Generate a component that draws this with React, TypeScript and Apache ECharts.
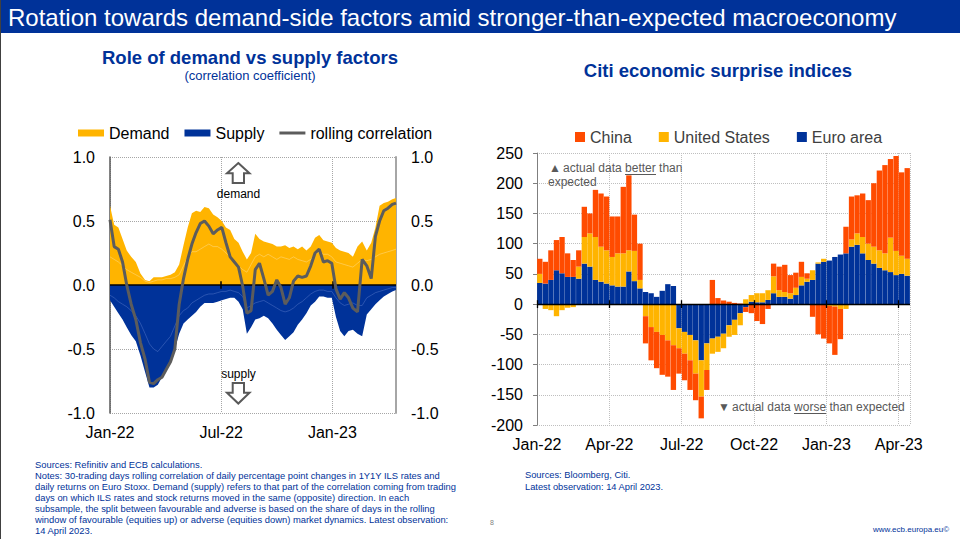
import React, { useEffect, useRef } from 'react';
import * as echarts from 'echarts';

const FONT = '"Liberation Sans", Arial, Helvetica, sans-serif';
const ECB_BLUE = '#003299';
const YELLOW = '#FFB400';
const ORANGE = '#FF4B00';
const GRAY = '#595959';

// ---------- Left chart: weekly observations (days after 1 Jan 2022) ----------
const leftDays: number[] = Array.from({ length: 67 }, (_, i) => i * 7).concat([468]);

const demand = [
  0.62, 0.47, 0.45, 0.36, 0.27, 0.22, 0.18, 0.09, 0.04, 0.03,
  0.06, 0.06, 0.06, 0.07, 0.08, 0.10, 0.16, 0.31, 0.45, 0.56,
  0.58, 0.57, 0.61, 0.60, 0.55, 0.53, 0.50, 0.45, 0.43, 0.36,
  0.33, 0.26, 0.20, 0.25, 0.40, 0.36, 0.34, 0.33, 0.32, 0.30,
  0.30, 0.31, 0.29, 0.30, 0.28, 0.30, 0.27, 0.30, 0.37, 0.39,
  0.35, 0.34, 0.33, 0.29, 0.27, 0.26, 0.25, 0.22, 0.30, 0.34,
  0.27, 0.33, 0.45, 0.62, 0.64, 0.65, 0.67, 0.68,
];
const supply = [
  -0.12, -0.17, -0.22, -0.27, -0.33, -0.39, -0.44, -0.55, -0.68, -0.80,
  -0.80, -0.78, -0.72, -0.66, -0.61, -0.50, -0.38, -0.30, -0.27, -0.24,
  -0.21, -0.17, -0.14, -0.14, -0.14, -0.13, -0.12, -0.11, -0.10, -0.10,
  -0.13, -0.19, -0.38, -0.33, -0.27, -0.26, -0.24, -0.26, -0.30, -0.35,
  -0.39, -0.43, -0.40, -0.37, -0.31, -0.27, -0.22, -0.16, -0.13, -0.09,
  -0.09, -0.10, -0.10, -0.25, -0.36, -0.40, -0.36, -0.35, -0.38, -0.40,
  -0.23, -0.19, -0.15, -0.12, -0.09, -0.07, -0.05, -0.04,
];
const demandFavourable = [
  0.22, 0.20, 0.18, 0.15, 0.12, 0.10, 0.08, 0.06, 0.03, 0.02,
  0.03, 0.04, 0.04, 0.05, 0.05, 0.06, 0.08, 0.15, 0.22, 0.26,
  0.26, 0.28, 0.30, 0.32, 0.30, 0.30, 0.28, 0.25, 0.22, 0.18,
  0.15, 0.12, 0.10, 0.16, 0.22, 0.24, 0.22, 0.24, 0.22, 0.20,
  0.22, 0.21, 0.20, 0.22, 0.20, 0.19, 0.18, 0.20, 0.24, 0.26,
  0.24, 0.24, 0.22, 0.18, 0.17, 0.16, 0.15, 0.14, 0.17, 0.20,
  0.19, 0.20, 0.22, 0.24, 0.25, 0.26, 0.27, 0.28,
];
const supplyFavourable = [
  -0.08, -0.10, -0.13, -0.15, -0.17, -0.20, -0.24, -0.30, -0.38, -0.46,
  -0.50, -0.52, -0.48, -0.44, -0.40, -0.32, -0.24, -0.20, -0.18, -0.14,
  -0.12, -0.10, -0.08, -0.07, -0.07, -0.06, -0.05, -0.05, -0.04, -0.05,
  -0.06, -0.09, -0.18, -0.16, -0.14, -0.13, -0.12, -0.14, -0.16, -0.18,
  -0.20, -0.21, -0.20, -0.18, -0.15, -0.13, -0.10, -0.07, -0.05, -0.04,
  -0.04, -0.05, -0.05, -0.10, -0.14, -0.16, -0.15, -0.14, -0.16, -0.16,
  -0.10, -0.08, -0.06, -0.05, -0.04, -0.03, -0.02, -0.02,
];
const rollingCorrelation = [
  0.51, 0.30, 0.28, 0.18, 0.00, -0.15, -0.27, -0.45, -0.58, -0.76,
  -0.77, -0.74, -0.72, -0.66, -0.60, -0.50, -0.15, 0.05, 0.20, 0.32,
  0.41, 0.48, 0.50, 0.46, 0.40, 0.43, 0.45, 0.33, 0.22, 0.18,
  0.14, -0.01, -0.22, -0.20, 0.12, 0.17, 0.05, -0.08, -0.05, 0.04,
  -0.02, -0.15, -0.10, 0.03, 0.07, 0.06, 0.07, 0.15, 0.25, 0.28,
  0.18, 0.19, 0.17, -0.03, -0.11, -0.06, -0.10, -0.18, -0.21, 0.20,
  0.15, 0.05, 0.38, 0.50, 0.58, 0.60, 0.63, 0.64,
];
const leftTickLabels: Record<number, string> = { 0: 'Jan-22', 6: 'Jul-22', 12: 'Jan-23' };

// ---------- Right chart: weekly bars (week centre, days after 1 Jan 2022) ----------
const rightDays: number[] = Array.from({ length: 67 }, (_, i) => 3.5 + i * 7);

const euroArea = [
  35, 34, 40, 56, 51, 45, 45, 42, 67, 62,
  40, 37, 34, 31, 29, 29, 54, 38, 26, 20,
  18, 12, 22, 33, 30, -40, -46, -51, -60, -93,
  -65, -57, -54, -49, -35, -26, -15, -5, 4, 3,
  3, 7, 18, 12, 12, 9, 15, 31, 37, 40,
  67, 70, 72, 78, 82, 84, 95, 98, 84, 73,
  67, 60, 56, 53, 48, 50, 47,
];
const unitedStates = [
  15, -8, -10, -20, -10, -6, -5, 20, 44, 55,
  71, 58, 55, 47, 55, 55, 35, 50, 14, -20,
  -38, -46, -51, -60, -68, -33, -36, -42, -55, -60,
  -44, -25, -25, -24, -19, -25, -20, 8, 11, 15,
  15, 16, 28, 11, 8, 9, 12, 14, 5, 16,
  2, 5, -3, -4, -8, -8, 12, 19, 27, 27,
  28, 29, 28, 57, 40, 30, 28,
];
const china = [
  25, 36, 49, 50, 60, 39, 28, 27, 50, 33,
  78, 88, 89, 67, 61, 110, 124, 60, 60, -45,
  -55, -60, -66, -60, -74, -42, -44, -49, -44, -36,
  -33, 40, 10, 6, 4, 2, 1, -8, -15, -28,
  -33, -8, 21, 39, 45, 30, 25, 25, 9, -21,
  -50, -57, -62, -80, -50, 44, 71, 63, 72, 72,
  105, 132, 146, 130, 157, 138, 150,
];
const rightTickLabels: Record<number, string> = {
  0: 'Jan-22', 3: 'Apr-22', 6: 'Jul-22', 9: 'Oct-22', 12: 'Jan-23', 15: 'Apr-23',
};

// ---------- Texts ----------
const pageTitle = 'Rotation towards demand-side factors amid stronger-than-expected macroeconomy';
const leftTitle = 'Role of demand vs supply factors';
const leftSubtitle = '(correlation coefficient)';
const rightTitle = 'Citi economic surprise indices';
const leftNotes = [
  'Sources: Refinitiv and ECB calculations.',
  'Notes: 30-trading days rolling correlation of daily percentage point changes in 1Y1Y ILS rates and',
  'daily returns on Euro Stoxx. Demand (supply) refers to that part of the correlation coming from trading',
  'days on which ILS rates and stock returns moved in the same (opposite) direction. In each',
  'subsample, the split between favourable and adverse is based on the share of days in the rolling',
  'window of favourable (equities up) or adverse (equities down) market dynamics. Latest observation:',
  '14 April 2023.',
];
const rightNotes = ['Sources: Bloomberg, Citi.', 'Latest observation: 14 April 2023.'];

// days after 1 Jan 2022 -> fractional month index (0 = Jan-22)
const DAYS_IN_MONTH = [31, 28, 31, 30, 31, 30, 31, 31, 30, 31, 30, 31];
function dayToMonth(d: number): number {
  let m = 0;
  let rem = d;
  for (;;) {
    const dim = DAYS_IN_MONTH[m % 12];
    if (rem < dim) return m + rem / dim;
    rem -= dim;
    m++;
  }
}

function txt(text: string, x: number, y: number, o: any = {}) {
  return {
    type: 'text',
    x,
    y,
    silent: true,
    z: 100,
    style: {
      text,
      fill: o.fill || '#000',
      fontSize: o.fontSize || 12,
      fontWeight: o.fontWeight || 'normal',
      fontFamily: FONT,
      align: o.align || 'left',
      verticalAlign: 'middle',
    },
  };
}

function buildOption(): any {
  const leftMax = dayToMonth(468);
  const rightMax = dayToMonth(469);
  const lx = leftDays.map(dayToMonth);
  const pair = (xs: number[], ys: number[]) => xs.map((x, i) => [x, ys[i]]);

  const dotted = { show: true, lineStyle: { color: '#a6a6a6', type: 'dotted', width: 1 } };
  const markBase = {
    silent: true, symbol: ['none', 'none'], label: { show: false }, animation: false,
  };

  const graphics: any[] = [
    { type: 'rect', silent: true, shape: { x: 0, y: 0, width: 960, height: 33 }, style: { fill: ECB_BLUE } },
    { type: 'line', silent: true, shape: { x1: 0.5, y1: 0, x2: 0.5, y2: 539 }, style: { stroke: '#404040', lineWidth: 1 } },
    txt(pageTitle, 8, 17, { fill: '#fff', fontSize: 24 }),
    txt(leftTitle, 250, 57, { fill: ECB_BLUE, fontSize: 18.5, fontWeight: 'bold', align: 'center' }),
    txt(leftSubtitle, 250, 75, { fill: ECB_BLUE, fontSize: 13, align: 'center' }),
    txt(rightTitle, 718, 70, { fill: ECB_BLUE, fontSize: 18.5, fontWeight: 'bold', align: 'center' }),
    // demand / supply arrows
    {
      type: 'polygon', silent: true, z: 100,
      shape: { points: [[238.3, 163], [249.5, 173.3], [244, 173.3], [244, 183], [232.7, 183], [232.7, 173.3], [227, 173.3]] },
      style: { fill: '#fff', stroke: GRAY, lineWidth: 2 },
    },
    txt('demand', 238.5, 194, { fontSize: 12, align: 'center' }),
    txt('supply', 238.5, 374, { fontSize: 12, align: 'center' }),
    {
      type: 'polygon', silent: true, z: 100,
      shape: { points: [[232.7, 383], [244, 383], [244, 392.7], [249.5, 392.7], [238.3, 403.5], [227, 392.7], [232.7, 392.7]] },
      style: { fill: '#fff', stroke: GRAY, lineWidth: 2 },
    },
    // right annotations
    txt('\u25B2', 549, 168, { fill: GRAY, fontSize: 12 }),
    txt('actual data better than', 563, 168, { fill: GRAY, fontSize: 12 }),
    { type: 'line', silent: true, z: 100, shape: { x1: 625, y1: 174.5, x2: 656, y2: 174.5 }, style: { stroke: GRAY, lineWidth: 1 } },
    txt('expected', 548, 182, { fill: GRAY, fontSize: 12 }),
    txt('\u25BC', 718, 407, { fill: GRAY, fontSize: 12 }),
    txt('actual data worse than expected', 732, 407, { fill: GRAY, fontSize: 12 }),
    { type: 'line', silent: true, z: 100, shape: { x1: 794, y1: 413.5, x2: 826, y2: 413.5 }, style: { stroke: GRAY, lineWidth: 1 } },
    // footnotes
    ...leftNotes.map((t, i) => txt(t, 35, 464 + i * 11.1, { fill: ECB_BLUE, fontSize: 9.4 })),
    ...rightNotes.map((t, i) => txt(t, 525, 475 + i * 11.5, { fill: ECB_BLUE, fontSize: 9.3 })),
    txt('8', 490, 522, { fill: '#7f7f7f', fontSize: 7 }),
    txt('www.ecb.europa.eu\u00A9', 873, 529, { fill: ECB_BLUE, fontSize: 8 }),
  ];

  const leftTicks = [6, 12].map((m) => [{ coord: [m, -0.03] }, { coord: [m, 0.03] }]);
  const rightTicks = [0, 3, 6, 9, 12, 15].map((m) => [{ coord: [m, -6.5] }, { coord: [m, 6.5] }]);

  return {
    animation: false,
    textStyle: { fontFamily: FONT },
    graphic: graphics,
    legend: [
      {
        left: 78, top: 125, padding: 0, itemGap: 15, itemWidth: 26, itemHeight: 7,
        selectedMode: false,
        textStyle: { fontSize: 16, color: '#000', fontFamily: FONT },
        data: [
          { name: 'Demand', icon: 'rect' },
          { name: 'Supply', icon: 'rect' },
          { name: 'rolling correlation', icon: 'path://M0,0H26V3H0Z' },
        ],
      },
      {
        left: 575, top: 129, padding: 0, itemGap: 27, itemWidth: 10, itemHeight: 10,
        selectedMode: false,
        textStyle: { fontSize: 16, color: '#404040', fontFamily: FONT },
        data: [
          { name: 'China', icon: 'rect' },
          { name: 'United States', icon: 'rect' },
          { name: 'Euro area', icon: 'rect' },
        ],
      },
    ],
    grid: [
      { left: 110, top: 157, width: 286, height: 256 },
      { left: 537, top: 153, width: 373, height: 272 },
    ],
    xAxis: [
      {
        type: 'value', gridIndex: 0, min: 0, max: leftMax, interval: 6,
        axisLine: { show: false, onZero: false }, axisTick: { show: false },
        axisLabel: {
          fontSize: 16, color: '#000', margin: 11,
          formatter: (v: number) => leftTickLabels[Math.round(v * 1000) / 1000] || '',
        },
        splitLine: dotted,
      },
      {
        type: 'value', gridIndex: 1, min: 0, max: rightMax, interval: 3,
        axisLine: { show: false, onZero: false }, axisTick: { show: false },
        axisLabel: {
          fontSize: 16, color: '#000', margin: 11,
          formatter: (v: number) => rightTickLabels[Math.round(v * 1000) / 1000] || '',
        },
        splitLine: { show: true, lineStyle: { color: '#bfbfbf', type: 'dotted', width: 1 } },
      },
      {
        // weekly bands for the stacked bars (hidden), aligned with the month axis above
        type: 'category', gridIndex: 1, show: false, boundaryGap: true,
        data: rightDays.map((d) => String(d)),
        axisLine: { onZero: false },
      },
    ],
    yAxis: [
      {
        type: 'value', gridIndex: 0, min: -1, max: 1, interval: 0.5, position: 'left',
        axisLine: { show: true, onZero: false, lineStyle: { color: GRAY, width: 1.5 } },
        axisTick: { show: false },
        axisLabel: { fontSize: 16, color: '#000', margin: 15, formatter: (v: number) => v.toFixed(1) },
        splitLine: dotted,
      },
      {
        type: 'value', gridIndex: 0, min: -1, max: 1, interval: 0.5, position: 'right',
        axisLine: { show: true, onZero: false, lineStyle: { color: '#a6a6a6', width: 2 } },
        axisTick: { show: false },
        axisLabel: { fontSize: 16, color: '#000', margin: 15, formatter: (v: number) => v.toFixed(1) },
        splitLine: { show: false },
      },
      {
        type: 'value', gridIndex: 1, min: -200, max: 250, interval: 50, position: 'left',
        axisLine: { show: true, onZero: false, lineStyle: { color: '#7f7f7f', width: 1 } },
        axisTick: { show: true, length: 4, lineStyle: { color: '#7f7f7f' } },
        axisLabel: { fontSize: 16, color: '#000', margin: 14 },
        splitLine: { show: true, lineStyle: { color: '#bfbfbf', type: 'dotted', width: 1 } },
      },
    ],
    series: [
      {
        name: 'Demand', type: 'line', xAxisIndex: 0, yAxisIndex: 0,
        data: pair(lx, demand), symbol: 'none', z: 2,
        color: YELLOW, itemStyle: { color: YELLOW },
        lineStyle: { width: 0, color: YELLOW }, areaStyle: { color: YELLOW, opacity: 1 },
      },
      {
        name: 'Supply', type: 'line', xAxisIndex: 0, yAxisIndex: 0,
        data: pair(lx, supply), symbol: 'none', z: 2,
        color: ECB_BLUE, itemStyle: { color: ECB_BLUE },
        lineStyle: { width: 0, color: ECB_BLUE }, areaStyle: { color: ECB_BLUE, opacity: 1 },
        markLine: {
          ...markBase,
          lineStyle: { color: '#000', width: 1.5, type: 'solid' },
          data: [{ yAxis: 0 }, ...leftTicks],
        },
      },
      {
        name: 'demand favourable', type: 'line', xAxisIndex: 0, yAxisIndex: 0,
        data: pair(lx, demandFavourable), symbol: 'none', z: 3,
        lineStyle: { width: 0.7, color: 'rgba(255,255,255,0.4)' },
      },
      {
        name: 'supply favourable', type: 'line', xAxisIndex: 0, yAxisIndex: 0,
        data: pair(lx, supplyFavourable), symbol: 'none', z: 3,
        lineStyle: { width: 0.7, color: 'rgba(120,150,220,0.5)' },
      },
      {
        name: 'rolling correlation', type: 'line', xAxisIndex: 0, yAxisIndex: 0,
        data: pair(lx, rollingCorrelation), symbol: 'none', z: 10,
        color: '#5c5c5c', itemStyle: { color: '#5c5c5c' },
        lineStyle: { width: 3, color: '#5c5c5c' },
      },
      {
        name: 'Euro area', type: 'bar', xAxisIndex: 2, yAxisIndex: 2, stack: 'surprise',
        data: euroArea, barCategoryGap: '4%', itemStyle: { color: ECB_BLUE }, color: ECB_BLUE,
      },
      {
        name: 'United States', type: 'bar', xAxisIndex: 2, yAxisIndex: 2, stack: 'surprise',
        data: unitedStates, barCategoryGap: '4%', itemStyle: { color: YELLOW }, color: YELLOW,
      },
      {
        name: 'China', type: 'bar', xAxisIndex: 2, yAxisIndex: 2, stack: 'surprise',
        data: china, barCategoryGap: '4%', itemStyle: { color: ORANGE }, color: ORANGE,
      },
      {
        // zero line with crossing month ticks for the right chart
        name: 'zero line', type: 'line', xAxisIndex: 1, yAxisIndex: 2, z: 5,
        data: [[0, 0]], symbol: 'none', lineStyle: { width: 0, opacity: 0 },
        markLine: {
          ...markBase,
          lineStyle: { color: '#000', width: 1.3, type: 'solid' },
          data: [{ yAxis: 0 }, ...rightTicks],
        },
      },
    ],
  };
}

export default function App() {
  const ref = useRef<HTMLDivElement>(null);
  useEffect(() => {
    if (!ref.current) return;
    const chart = echarts.init(ref.current, null, { renderer: 'svg' });
    chart.setOption(buildOption());
    return () => chart.dispose();
  }, []);
  return (
    <div
      ref={ref}
      style={{ position: 'absolute', left: 0, top: 0, width: 960, height: 539, background: '#fff' }}
    />
  );
}
